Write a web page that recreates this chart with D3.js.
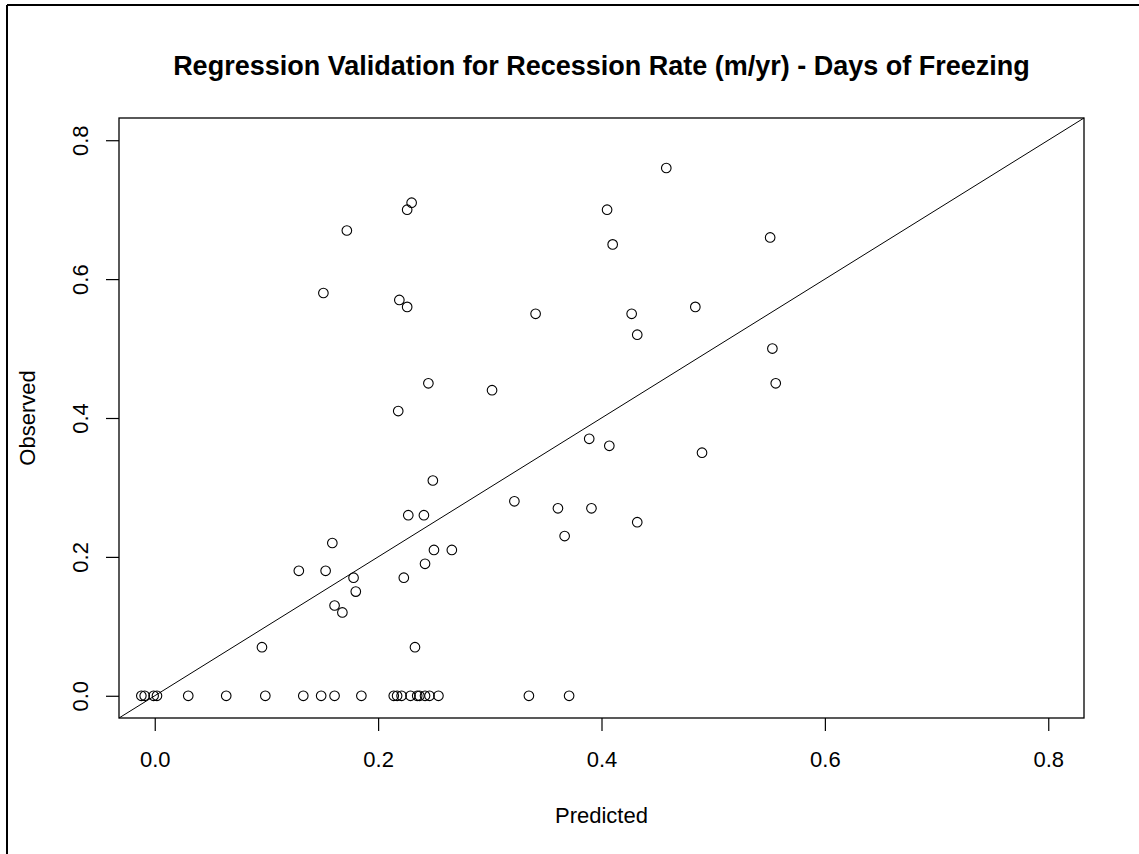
<!DOCTYPE html>
<html>
<head>
<meta charset="utf-8">
<script src="https://cdn.jsdelivr.net/npm/d3@7"></script>
<style>
  html, body { margin: 0; padding: 0; background: #fff; }
  svg { display: block; }
  text { font-family: "Liberation Sans", Arial, sans-serif; fill: #000; }
</style>
</head>
<body>
<svg id="chart" width="1139" height="854"></svg>
<script>
// Predicted vs observed recession rate (m/yr)
const predicted = [
  0.230, 0.226, 0.172, 0.151, 0.219, 0.226, 0.245, 0.302, 0.218,
  0.458, 0.405, 0.410, 0.551, 0.341, 0.427, 0.432, 0.484, 0.553, 0.556,
  0.389, 0.407, 0.490, 0.322, 0.361, 0.391, 0.367, 0.432,
  0.249, 0.227, 0.241, 0.250, 0.266, 0.242, 0.223, 0.159, 0.129, 0.153,
  0.178, 0.180, 0.161, 0.168, 0.096, 0.233,
  -0.012, -0.009, -0.001, 0.002, 0.030, 0.064, 0.099, 0.133, 0.149, 0.161,
  0.185, 0.214, 0.217, 0.221, 0.229, 0.235, 0.237, 0.242, 0.246, 0.254,
  0.335, 0.371
];
const observed = [
  0.71, 0.70, 0.67, 0.58, 0.57, 0.56, 0.45, 0.44, 0.41,
  0.76, 0.70, 0.65, 0.66, 0.55, 0.55, 0.52, 0.56, 0.50, 0.45,
  0.37, 0.36, 0.35, 0.28, 0.27, 0.27, 0.23, 0.25,
  0.31, 0.26, 0.26, 0.21, 0.21, 0.19, 0.17, 0.22, 0.18, 0.18,
  0.17, 0.15, 0.13, 0.12, 0.07, 0.07,
  0, 0, 0, 0, 0, 0, 0, 0, 0, 0,
  0, 0, 0, 0, 0, 0, 0, 0, 0, 0,
  0, 0
];
const xTicks = [0.0, 0.2, 0.4, 0.6, 0.8];
const yTicks = [0.0, 0.2, 0.4, 0.6, 0.8];
const axisLimits = [0, 0.8];

const titleText = "Regression Validation for Recession Rate (m/yr) - Days of Freezing";
const xLabel = "Predicted";
const yLabel = "Observed";

const svg = d3.select("#chart");
const plot = { left: 119, right: 1084, top: 118, bottom: 718 };

// 4% padding on each side of the limits, as in base R plots
const pad = (axisLimits[1] - axisLimits[0]) * 0.04;
const domain = [axisLimits[0] - pad, axisLimits[1] + pad];

const x = d3.scaleLinear().domain(domain).range([plot.left, plot.right]);
const y = d3.scaleLinear().domain(domain).range([plot.bottom, plot.top]);

// outer figure frame (top and left edges)
svg.append("line").attr("x1", 7).attr("x2", 1139).attr("y1", 5).attr("y2", 5)
  .attr("stroke", "#000").attr("stroke-width", 2);
svg.append("line").attr("x1", 7).attr("x2", 7).attr("y1", 5).attr("y2", 854)
  .attr("stroke", "#000").attr("stroke-width", 2);

const fmt = d3.format(".1f");

// x axis
const gx = svg.append("g")
  .attr("transform", `translate(0,${plot.bottom})`)
  .call(d3.axisBottom(x).tickValues(xTicks).tickSize(13).tickPadding(8).tickFormat(fmt));
gx.select(".domain").remove();
gx.selectAll(".tick line").attr("stroke", "#000").attr("stroke-width", 1.2);
gx.selectAll(".tick text")
  .attr("font-size", 22).attr("font-family", "Liberation Sans, Arial, sans-serif")
  .attr("fill", "#000").attr("dy", null).attr("y", 49);

// y axis with labels turned parallel to the axis
const gy = svg.append("g")
  .attr("transform", `translate(${plot.left},0)`)
  .call(d3.axisLeft(y).tickValues(yTicks).tickSize(13).tickFormat(fmt));
gy.select(".domain").remove();
gy.selectAll(".tick line").attr("stroke", "#000").attr("stroke-width", 1.2);
gy.selectAll(".tick text")
  .attr("font-size", 22).attr("font-family", "Liberation Sans, Arial, sans-serif")
  .attr("fill", "#000")
  .attr("text-anchor", "middle")
  .attr("transform", "rotate(-90)")
  .attr("x", 0).attr("dy", null).attr("y", -31);

// reference line y = x across the full plot region
svg.append("line")
  .attr("x1", x(domain[0])).attr("y1", y(domain[0]))
  .attr("x2", x(domain[1])).attr("y2", y(domain[1]))
  .attr("stroke", "#000").attr("stroke-width", 1);

// observations
svg.append("g").selectAll("circle")
  .data(predicted.map((p, i) => ({ p, o: observed[i] })))
  .join("circle")
  .attr("cx", d => x(d.p))
  .attr("cy", d => y(d.o))
  .attr("r", 4.8)
  .attr("fill", "none")
  .attr("stroke", "#000")
  .attr("stroke-width", 1.1);

// plot box
svg.append("rect")
  .attr("x", plot.left).attr("y", plot.top)
  .attr("width", plot.right - plot.left).attr("height", plot.bottom - plot.top)
  .attr("fill", "none").attr("stroke", "#000").attr("stroke-width", 1.3);

// titles
svg.append("text")
  .attr("x", (plot.left + plot.right) / 2).attr("y", 75)
  .attr("text-anchor", "middle")
  .attr("font-size", 27).attr("font-weight", "bold")
  .text(titleText);

svg.append("text")
  .attr("x", (plot.left + plot.right) / 2).attr("y", 823)
  .attr("text-anchor", "middle")
  .attr("font-size", 22)
  .text(xLabel);

svg.append("text")
  .attr("transform", `translate(35,${(plot.top + plot.bottom) / 2}) rotate(-90)`)
  .attr("text-anchor", "middle")
  .attr("font-size", 22)
  .text(yLabel);
</script>
</body>
</html>
